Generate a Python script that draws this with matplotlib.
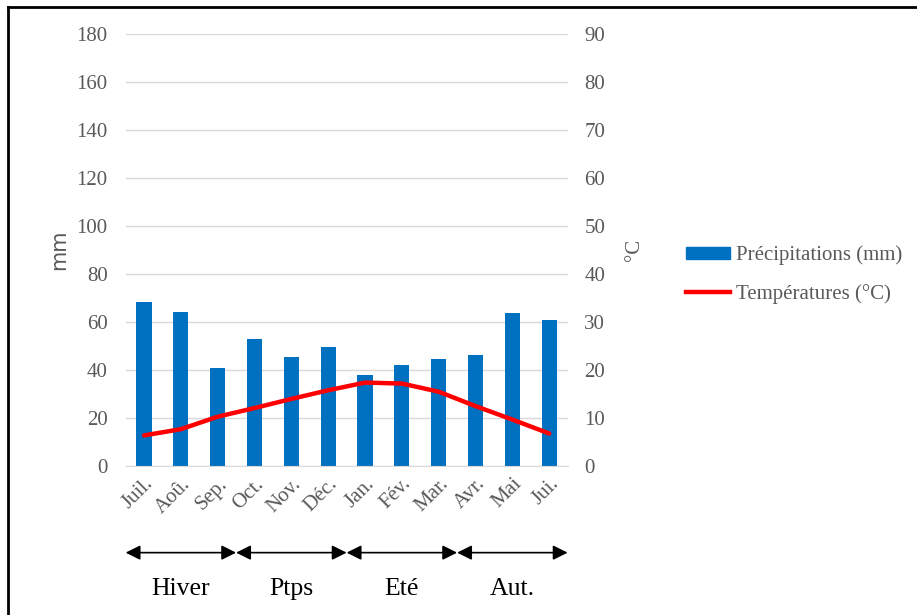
"""Climate diagram: monthly precipitation (bars) and temperature (line)."""
import matplotlib.pyplot as plt
from matplotlib.lines import Line2D

months = ["Juil.", "Aoû.", "Sep.", "Oct.", "Nov.", "Déc.",
          "Jan.", "Fév.", "Mar.", "Avr.", "Mai", "Jui."]
precip = [68.3, 64.0, 40.8, 52.8, 45.6, 49.5, 37.9, 42.2, 44.6, 46.1, 63.6, 60.8]
temp = [6.4, 7.7, 10.3, 12.1, 14.0, 15.8, 17.4, 17.2, 15.5, 12.5, 9.7, 6.8]
seasons = ["Hiver", "Ptps", "Eté", "Aut."]

gray = "#595959"
blue = "#0070C0"
serif = "Liberation Serif"

fig = plt.figure(figsize=(9.17, 6.15), dpi=100)
ax = fig.add_axes([0.137, 0.242, 0.482, 0.703])
ax2 = ax.twinx()

x = range(len(months))
ax.bar(x, precip, width=0.41, color=blue, label="Précipitations (mm)", zorder=2)
ax2.plot(x, temp, color="#FF0000", lw=3.2, label="Températures (°C)",
         solid_capstyle="round")

ax.set_xlim(-0.5, len(months) - 0.5)
ax.set_ylim(0, 180)
ax.set_yticks(range(0, 181, 20))
ax2.set_ylim(0, 90)
ax2.set_yticks(range(0, 91, 10))
ax.grid(axis="y", color="#D9D9D9", lw=1, zorder=0)
ax.set_axisbelow(True)

for a in (ax, ax2):
    for s in a.spines.values():
        s.set_visible(False)
    a.tick_params(length=0, colors=gray, labelsize=15)
    for lab in a.get_yticklabels():
        lab.set_fontfamily(serif)
ax.spines["bottom"].set_visible(True)
ax.spines["bottom"].set_color("#D9D9D9")
ax.tick_params(axis="y", pad=13)
ax2.tick_params(axis="y", pad=12)

ax.set_xticks(list(x))
ax.set_xticklabels(months, rotation=45, ha="right", rotation_mode="anchor",
                   fontfamily=serif, fontsize=15, color=gray)
ax.tick_params(axis="x", pad=6)

ax.set_ylabel("mm", fontsize=15, color=gray, labelpad=5)
ax2.set_ylabel("°C", fontsize=15, color=gray, fontfamily=serif,
               rotation=90, labelpad=14)

# season arrows under the month labels
trans = ax.get_xaxis_transform()
for i, name in enumerate(seasons):
    x0 = 3 * i - 0.5
    x1 = 3 * i + 2.5
    ax.annotate("", xy=(x1, -0.2), xytext=(x0, -0.2), xycoords=trans,
                textcoords=trans,
                arrowprops=dict(arrowstyle="<|-|>", color="black", lw=1.2,
                                mutation_scale=22, shrinkA=0, shrinkB=0))
    ax.text((x0 + x1) / 2, -0.284, name, transform=trans, ha="center",
            va="center", fontsize=18.5, fontfamily=serif, color="black")

# legend
handles = [plt.Rectangle((0, 0), 1, 1, color=blue),
           Line2D([0], [0], color="#FF0000", lw=3.2)]
fig.legend(handles, ["Précipitations (mm)", "Températures (°C)"],
           loc="center left", bbox_to_anchor=(0.748, 0.553), frameon=False,
           prop={"family": serif, "size": 15}, labelcolor=gray,
           handlelength=2.1, handleheight=0.5, labelspacing=0.9,
           handletextpad=0.3, borderpad=0, borderaxespad=0)

# frame lines (top and left)
fig.add_artist(Line2D([8 / 917, 1], [1 - 7 / 615, 1 - 7 / 615],
                      transform=fig.transFigure, color="black", lw=2))
fig.add_artist(Line2D([8 / 917, 8 / 917], [0, 1 - 7 / 615],
                      transform=fig.transFigure, color="black", lw=2))

fig.savefig("out.png", dpi=100)
